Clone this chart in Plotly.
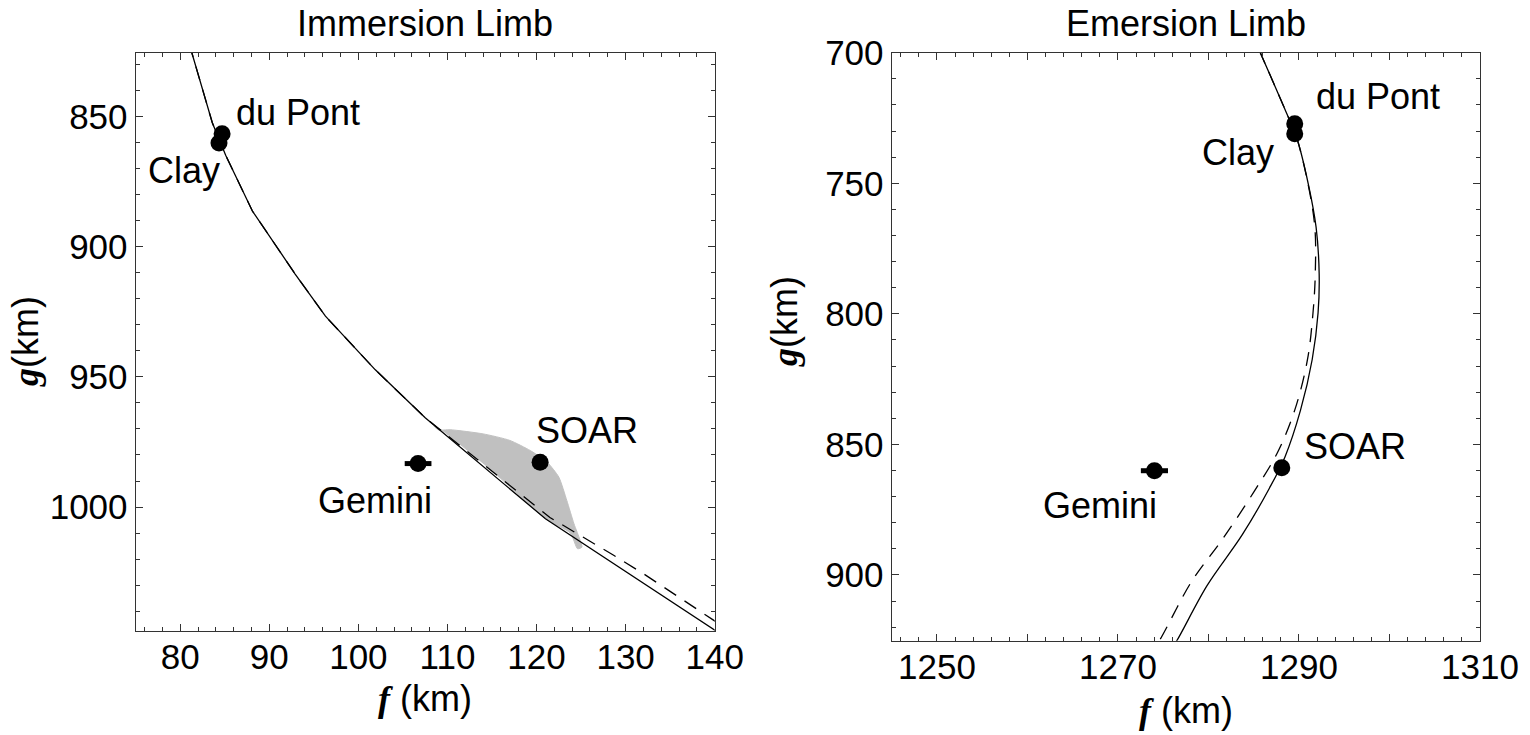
import plotly.graph_objects as go

W, H = 1530, 735

# ---------------- Data: Immersion limb (left) ----------------
imm_solid_f = [81.0, 83.6, 85.1, 88.1, 92.9, 96.3, 101.9, 107.5, 121.0, 130.0, 138.0, 140.0, 141.0]
imm_solid_g = [822.0, 852.4, 864.9, 886.3, 910.5, 926.7, 947.3, 965.7, 1004.5, 1024.8, 1043.0, 1047.5, 1049.5]
imm_dash_f = [81.0, 83.6, 85.1, 88.1, 92.9, 96.3, 101.9, 107.5, 121.5, 125.3, 128.7, 132.0, 135.4, 138.4, 140.0, 141.0]
imm_dash_g = [822.0, 852.4, 864.9, 886.3, 910.5, 926.7, 947.3, 965.7, 1004.0, 1011.6, 1018.6, 1025.6, 1033.3, 1040.3, 1043.8, 1046.0]
imm_band_f = [108.5, 109.0, 110.3, 114.0, 117.0, 119.3, 121.2, 122.5, 123.4, 124.2, 124.9, 125.1, 124.6, 123.8, 121.0, 115.0, 109.5, 108.5]
imm_band_g = [969.0, 970.4, 970.3, 971.9, 974.4, 978.3, 982.8, 988.5, 997.5, 1006.4, 1012.8, 1015.4, 1016.0, 1010.0, 1004.5, 986.0, 970.8, 969.0]
imm_sites = ["du Pont", "Clay", "Gemini", "SOAR"]
imm_site_f = [84.7, 84.35, 106.7, 120.4]
imm_site_g = [856.6, 860.2, 983.3, 982.8]
imm_site_ferr = [0.0, 0.0, 1.5, 0.0]
imm_label_f = [86.0, 80.43, 101.9, 125.7]
imm_label_g = [848.5, 870.7, 997.5, 970.6]

# ---------------- Data: Emersion limb (right) ----------------
emr_solid_f = [1285.6, 1288.67, 1289.74, 1291.03, 1291.89, 1292.23, 1292.11, 1291.46, 1290.17, 1288.45, 1286.73, 1283.72, 1279.84, 1276.41, 1276.0]
emr_solid_g = [699.0, 723.5, 732.5, 750.3, 766.8, 784.7, 799.6, 817.5, 836.9, 854.8, 866.8, 884.7, 904.1, 925.7, 927.5]
emr_dash_f = [1285.6, 1288.67, 1289.74, 1291.0, 1291.75, 1291.8, 1291.55, 1290.94, 1289.53, 1287.6, 1285.0, 1281.57, 1278.12, 1274.47, 1274.0]
emr_dash_g = [699.0, 723.5, 732.5, 750.3, 766.8, 784.7, 799.6, 817.5, 836.9, 853.3, 868.3, 886.2, 902.6, 925.7, 927.5]
emr_sites = ["du Pont", "Clay", "Gemini", "SOAR"]
emr_site_f = [1289.53, 1289.53, 1274.03, 1288.1]
emr_site_g = [727.2, 731.0, 860.1, 859.0]
emr_site_ferr = [0.0, 0.0, 1.5, 0.0]
emr_label_f = [1298.76, 1283.24, 1268.0, 1296.16]
emr_label_g = [716.8, 738.4, 873.3, 850.7]

# ---------------- Axes ticks ----------------
imm_xticks = [80, 90, 100, 110, 120, 130, 140]
imm_yticks = [850, 900, 950, 1000]
emr_xticks = [1250, 1260, 1270, 1280, 1290, 1300, 1310]
emr_xticktext = ["1250", "", "1270", "", "1290", "", "1310"]
emr_yticks = [700, 750, 800, 850, 900]

FONT = "Liberation Sans, Arial, Helvetica, sans-serif"
LINE_C = "#000000"
FRAME_C = "#333333"

fig = go.Figure()

# grey uncertainty band (left)
fig.add_trace(go.Scatter(x=imm_band_f, y=imm_band_g, mode="lines", fill="toself",
                         fillcolor="#c0c0c0", line=dict(color="#c0c0c0", width=1, shape="spline", smoothing=0.6),
                         xaxis="x", yaxis="y", hoverinfo="skip"))
# curves
for xs, ys, dash, xa, ya, shape in [
    (imm_dash_f, imm_dash_g, "14px,10px", "x", "y", "linear"),
    (imm_solid_f, imm_solid_g, "solid", "x", "y", "linear"),
    (emr_dash_f, emr_dash_g, "14px,10px", "x2", "y2", "spline"),
    (emr_solid_f, emr_solid_g, "solid", "x2", "y2", "spline"),
]:
    fig.add_trace(go.Scatter(x=xs, y=ys, mode="lines",
                             line=dict(color=LINE_C, width=1.3, dash=dash, shape=shape),
                             xaxis=xa, yaxis=ya, hoverinfo="skip"))

# site points
for fs, gs, errs, xa, ya in [
    (imm_site_f, imm_site_g, imm_site_ferr, "x", "y"),
    (emr_site_f, emr_site_g, emr_site_ferr, "x2", "y2"),
]:
    fig.add_trace(go.Scatter(x=fs, y=gs, mode="markers",
                             marker=dict(color="#000000", size=17),
                             error_x=dict(type="data", array=errs, visible=True, color="#000000",
                                          thickness=5, width=0),
                             xaxis=xa, yaxis=ya))

annotations = []
for names, lf, lg, xa, ya in [
    (imm_sites, imm_label_f, imm_label_g, "x", "y"),
    (emr_sites, emr_label_f, emr_label_g, "x2", "y2"),
]:
    for n, fx, gy in zip(names, lf, lg):
        anchor = "left" if (n == "du Pont" and xa == "x") else "center"
        annotations.append(dict(x=fx, y=gy, xref=xa, yref=ya, text=n, showarrow=False,
                                xanchor=anchor, yanchor="middle",
                                font=dict(family=FONT, size=36, color="#000")))

def px(xp, yp):
    return xp / W, 1 - yp / H

# titles
for txt, cx, cy in [("Immersion Limb", 425, 24), ("Emersion Limb", 1186, 24)]:
    x, y = px(cx, cy)
    annotations.append(dict(x=x, y=y, xref="paper", yref="paper", text=txt, showarrow=False,
                            xanchor="center", yanchor="middle", font=dict(family=FONT, size=36, color="#000")))
ftitle = '<span style="font-family:Liberation Serif"><b><i>f</i></b></span> (km)'
gtitle = '<span style="font-family:Liberation Serif"><b><i>g</i></b></span>(km)'
for txt, cx, cy, ang in [(ftitle, 425, 698, 0), (ftitle, 1186, 710, 0),
                         (gtitle, 25, 342, -90), (gtitle, 784, 321, -90)]:
    x, y = px(cx, cy)
    annotations.append(dict(x=x, y=y, xref="paper", yref="paper", text=txt, showarrow=False,
                            textangle=ang, xanchor="center", yanchor="middle",
                            font=dict(family=FONT, size=36, color="#000")))

axis_common = dict(showline=True, linecolor=FRAME_C, linewidth=1.3, mirror="allticks",
                   ticks="inside", ticklen=7, tickwidth=1, tickcolor=FRAME_C,
                   showgrid=False, zeroline=False, automargin=False,
                   tickfont=dict(family=FONT, size=35, color="#000"))

fig.update_layout(
    template="none",
    width=W, height=H, margin=dict(l=0, r=0, t=0, b=0, pad=0),
    paper_bgcolor="white", plot_bgcolor="white", showlegend=False,
    xaxis=dict(domain=[135.7 / W, 714.7 / W], range=[75, 140], anchor="y",
               tickmode="array", tickvals=imm_xticks, ticklabelstandoff=-5,
               minor=dict(ticks="inside", ticklen=4, dtick=2, tick0=80, tickcolor=FRAME_C, showgrid=False),
               **axis_common),
    yaxis=dict(domain=[1 - 631 / H, 1 - 52.7 / H], range=[1047.6, 825.5], anchor="x",
               tickmode="array", tickvals=imm_yticks,
               minor=dict(ticks="inside", ticklen=4, dtick=10, tick0=850, tickcolor=FRAME_C, showgrid=False),
               **axis_common),
    xaxis2=dict(domain=[891.7 / W, 1480 / W], range=[1245, 1310], anchor="y2",
                tickmode="array", tickvals=emr_xticks, ticktext=emr_xticktext, ticklabelstandoff=-5,
                minor=dict(ticks="inside", ticklen=4, dtick=2, tick0=1250, tickcolor=FRAME_C, showgrid=False),
                **axis_common),
    yaxis2=dict(domain=[1 - 640.7 / H, 1 - 52.7 / H], range=[925.2, 700], anchor="x2",
                tickmode="array", tickvals=emr_yticks,
                minor=dict(ticks="inside", ticklen=4, dtick=10, tick0=700, tickcolor=FRAME_C, showgrid=False),
                **axis_common),
    annotations=annotations,
)

fig.write_html("out.html", config={"displayModeBar": False},
               post_script="document.body.style.margin='0px';document.body.style.overflow='hidden';")
